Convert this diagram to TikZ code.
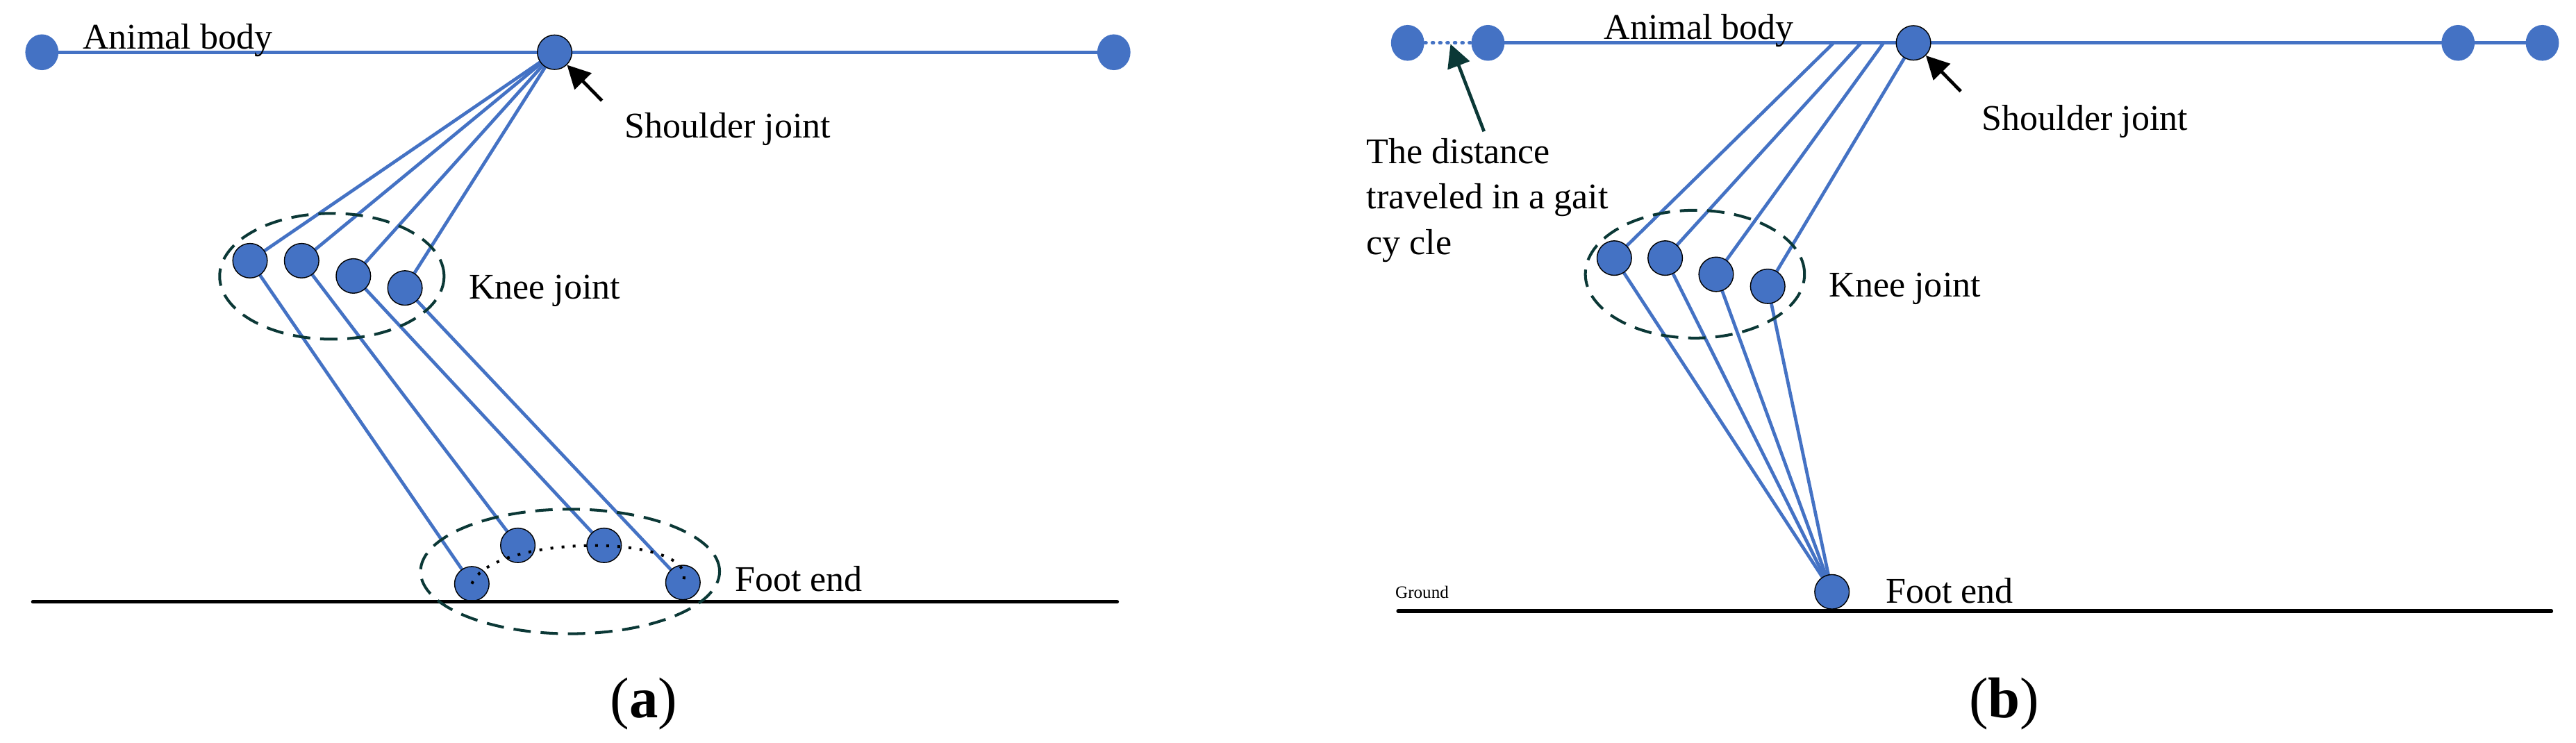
\documentclass[tikz,border=0pt]{standalone}
\usepackage{fontspec}
\setmainfont{Liberation Serif}
\usetikzlibrary{arrows.meta,shapes.geometric,backgrounds}
\definecolor{jblue}{HTML}{4472C4}
\definecolor{jteal}{HTML}{0B3836}
\begin{document}
\begin{tikzpicture}[x=0.5pt,y=-0.5pt,
  joint/.style={circle,fill=jblue,draw=black,line width=0.3pt,minimum size=10.5pt,inner sep=0pt},
  endpt/.style={ellipse,fill=jblue,minimum width=10.1pt,minimum height=10.9pt,inner sep=0pt},
  body/.style={jblue,line width=1.15pt},
  leg/.style={jblue,line width=1pt},
  groundline/.style={black,line width=1.1pt,line cap=round},
  group/.style={ellipse,draw=jteal,line width=0.85pt,dash pattern=on 5.3pt off 3pt,inner sep=0pt},
  lbl/.style={font=\fontsize{11}{13.9}\selectfont,inner sep=0pt,anchor=base west},
  pointer/.style={line width=1pt,-{Triangle[length=7pt,width=7pt]}},
  footpath/.style={black,line width=0.85pt,dash pattern=on 0.85pt off 2.55pt},
  travel/.style={jblue,line width=1pt,line cap=round,dash pattern=on 0.4pt off 1.85pt},
]
\useasboundingbox (0,0) rectangle (1568,452);

% ---------------- panel (a) ----------------
\node[endpt] (la) at (25.5,31.8) {};
\node[endpt] (ra) at (678,31.8) {};
\node[joint] (sa) at (337.6,31.8) {};
\node[joint] (ka1) at (152.2,158.7) {};
\node[joint] (ka2) at (183.6,158.7) {};
\node[joint] (ka3) at (215.1,168) {};
\node[joint] (ka4) at (246.5,175.3) {};
\node[joint] (fa1) at (287.2,355.4) {};
\node[joint] (fa2) at (315.2,332) {};
\node[joint] (fa3) at (367.7,332) {};
\node[joint] (fa4) at (415.7,354.6) {};

\begin{scope}[on background layer]
  \draw[body] (la.center) -- (ra.center);
  \foreach \i in {1,2,3,4}{
    \draw[leg] (sa.center) -- (ka\i.center) -- (fa\i.center);
  }
\end{scope}

\coordinate (ga1) at (20,366.4);
\coordinate (ga2) at (680,366.4);
\draw[groundline] (ga1) -- (ga2);

\node[group,minimum width=68.3pt,minimum height=38.3pt] (kga) at (202,168.2) {};
\node[group,minimum width=91pt,minimum height=37.9pt] (fga) at (347,347.9) {};

\draw[footpath] (fa1.center) .. controls (300,324.5) and (427,324.5) .. (fa4.center);

\coordinate (sat) at (366.4,61.3);
\draw[pointer] (sat) -- (sa);

\node[lbl] (ta1) at (50,30) {Animal body};
\node[lbl] (ta2) at (380,83.9) {Shoulder joint};
\node[lbl] (ta3) at (285,181.8) {Knee joint};
\node[lbl] (ta4) at (447,360) {Foot end};
\node[font=\fontsize{17.5}{20}\selectfont,inner sep=0pt,anchor=base] (capa) at (392,437) {(\textbf{a})};

% ---------------- panel (b) ----------------
\node[endpt] (b1) at (856.8,26.1) {};
\node[endpt] (b2) at (905.7,26.1) {};
\node[endpt] (b3) at (1496.2,26.1) {};
\node[endpt] (b4) at (1547.5,26.1) {};
\node[joint] (sb) at (1164.7,26.1) {};
\coordinate (h1) at (1116.1,26.1);
\coordinate (h2) at (1132.8,26.1);
\coordinate (h3) at (1146.5,26.1);
\node[joint] (kb1) at (982.6,157.1) {};
\node[joint] (kb2) at (1013.6,157.1) {};
\node[joint] (kb3) at (1044.6,167) {};
\node[joint] (kb4) at (1076,174.3) {};
\node[joint] (fb) at (1115.1,360.3) {};

\begin{scope}[on background layer]
  \draw[body] (b2.center) -- (b4.center);
  \draw[travel] (b1.east) -- (b2.west);
  \draw[leg] (h1) -- (kb1.center) -- (fb.center);
  \draw[leg] (h2) -- (kb2.center) -- (fb.center);
  \draw[leg] (h3) -- (kb3.center) -- (fb.center);
  \draw[leg] (sb.center) -- (kb4.center) -- (fb.center);
\end{scope}

\coordinate (gb1) at (851,372);
\coordinate (gb2) at (1553,372);
\draw[groundline] (gb1) -- (gb2);

\node[group,minimum width=66.7pt,minimum height=38.9pt] (kgb) at (1031.7,166.9) {};

\coordinate (sbt) at (1193.5,55.6);
\draw[pointer] (sbt) -- (sb);

\coordinate (dtip) at (882.9,26.8);
\coordinate (dtail) at (903.3,80);
\draw[pointer,jteal] (dtail) -- (dtip);

\node[lbl] (tb1) at (976,24) {Animal body};
\node[lbl] (tb2) at (1206,79.3) {Shoulder joint};
\node[lbl] (tb3) at (1113,180.8) {Knee joint};
\node[lbl] (tb4) at (1147.4,367.1) {Foot end};
\node[lbl,font=\fontsize{5.3}{6}\selectfont] (tb5) at (849,364) {Ground};
\node[lbl,align=left] (tb6) at (831.4,155) {The distance\\traveled in a gait\\cy cle};
\node[font=\fontsize{17.5}{20}\selectfont,inner sep=0pt,anchor=base] (capb) at (1220,437) {(\textbf{b})};
\end{tikzpicture}
\end{document}
